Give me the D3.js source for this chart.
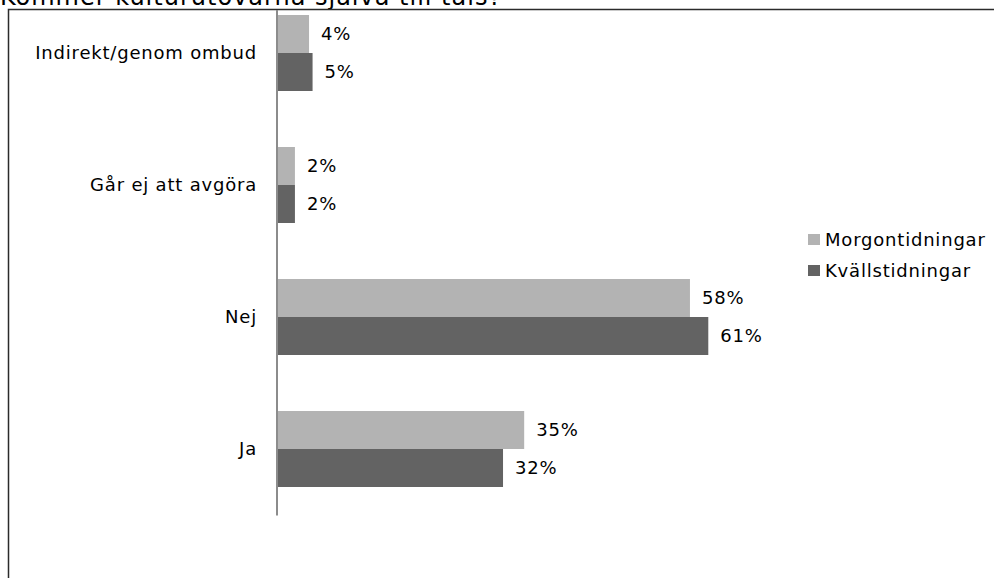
<!DOCTYPE html>
<html><head><meta charset="utf-8">
<script src="https://cdn.jsdelivr.net/npm/d3@7"></script>
<style>body{margin:0;background:#fff}svg{display:block}</style>
</head><body><svg id="c" width="994" height="578"></svg>
<script>
const title = "Kommer kulturutövarna själva till tals?";
const categories = ["Indirekt/genom ombud", "Går ej att avgöra", "Nej", "Ja"];
const seriesNames = ["Morgontidningar", "Kvällstidningar"];
const morgon = [0.044, 0.024, 0.584, 0.349];
const kvall = [0.049, 0.024, 0.610, 0.319];
const colors = ["#b3b3b3", "#636363"];

const svg = d3.select("#c");
const font = "'DejaVu Sans', sans-serif";
const fs = 18, ls = 0.8;

svg.append("text").attr("x",0).attr("y",5).attr("font-family",font).attr("font-size",24)
  .attr("letter-spacing",1).attr("fill","#000").text(title);

svg.append("path").attr("d","M8.5,578V9.5H994").attr("fill","none").attr("stroke","#2b2b2b").attr("stroke-width",1.5);

const x = d3.scaleLinear().domain([0,0.7]).range([278, 278+0.7*705.4]);
const p = 56/132;
const y = d3.scaleBand().domain(categories).range([-13,515]).paddingInner(p).paddingOuter(p/2);
const ys = d3.scaleBand().domain(seriesNames).range([0,y.bandwidth()]);
const fmt = d3.format(".0%");
const series = [morgon, kvall];

const g = svg.append("g");
series.forEach((vals,si)=>{
  g.selectAll(null).data(categories).enter().append("rect")
    .attr("x",x(0)).attr("y",d=>y(d)+ys(seriesNames[si]))
    .attr("width",(d,i)=>x(vals[i])-x(0)).attr("height",ys.bandwidth())
    .attr("fill",colors[si]);
  g.selectAll(null).data(categories).enter().append("text")
    .attr("x",(d,i)=>x(vals[i])+12).attr("y",d=>y(d)+ys(seriesNames[si])+ys.bandwidth()/2)
    .attr("dy","0.35em").attr("font-family",font).attr("font-size",fs).attr("letter-spacing",ls).attr("fill","#000")
    .text((d,i)=>fmt(vals[i]));
});

const yAxis = d3.axisLeft(y).tickSize(0).tickPadding(20);
const ax = svg.append("g").attr("transform","translate(277,0)").call(yAxis);
ax.select(".domain").attr("d","M0,10V515.5").attr("stroke","#8c8c8c").attr("stroke-width",2);
ax.selectAll("text").attr("font-family",font).attr("font-size",fs).attr("letter-spacing",ls).attr("fill","#000");

const leg = svg.append("g");
seriesNames.forEach((s,i)=>{
  leg.append("rect").attr("x",808).attr("y",234+i*31).attr("width",12).attr("height",11).attr("fill",colors[i]);
  leg.append("text").attr("x",825).attr("y",239.5+i*31).attr("dy","0.35em").attr("font-family",font).attr("font-size",fs).attr("letter-spacing",ls).attr("fill","#000").text(s);
});
</script></body></html>
